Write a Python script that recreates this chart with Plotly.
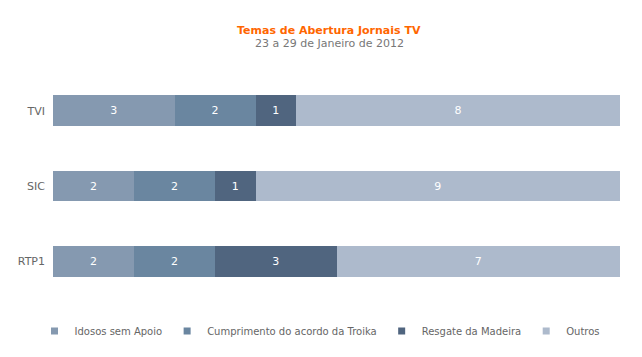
import plotly.graph_objects as go

categories = ["RTP1", "SIC", "TVI"]
series_names = ["Idosos sem Apoio", "Cumprimento do acordo da Troika", "Resgate da Madeira", "Outros"]
idosos = [2, 2, 3]
troika = [2, 2, 2]
madeira = [3, 1, 1]
outros = [7, 9, 8]
colors = ["#8599B0", "#6A86A0", "#50657F", "#ADBACC"]

values = [idosos, troika, madeira, outros]

fig = go.Figure()
for name, vals, col in zip(series_names, values, colors):
    fig.add_trace(go.Bar(
        y=categories, x=vals, name=name, orientation="h", legendgroup=name,
        showlegend=False,
        marker=dict(color=col, line=dict(width=0)),
        text=vals, textposition="inside", insidetextanchor="middle",
        textfont=dict(color="white", size=11, family="DejaVu Sans"),
        hoverinfo="x+name",
    ))
# small square legend keys
for name, col in zip(series_names, colors):
    fig.add_trace(go.Scatter(
        x=[None], y=[None], mode="markers", name=name, legendgroup=name,
        marker=dict(symbol="square", size=7, color=col), showlegend=True,
        hoverinfo="skip",
    ))

# page has an 8px body margin, so the figure is offset by 8px
OFF = 8
W, H = 642 - OFF, 357 - OFF
ML, MR, MT, MB = 53 - OFF, W - (620 - OFF), 73 - OFF, H - (299 - OFF)
PW, PH = W - ML - MR, H - MT - MB
fig.update_layout(
    barmode="stack",
    bargap=0.59,
    width=W, height=H,
    margin=dict(l=ML, r=MR, t=MT, b=MB, autoexpand=False),
    paper_bgcolor="white", plot_bgcolor="white",
    font=dict(family="DejaVu Sans", size=11, color="#666666"),
    xaxis=dict(visible=False, range=[0, 14], fixedrange=True, automargin=False),
    yaxis=dict(showgrid=False, showline=False, zeroline=False, ticks="", automargin=False,
               categoryorder="array", categoryarray=categories,
               tickfont=dict(color="#666666", size=11), ticklabelstandoff=7),
    showlegend=True,
    legend=dict(orientation="h", xref="container", yref="container",
                x=(320 - OFF) / W, xanchor="center", y=(H - (331 - OFF)) / H, yanchor="middle",
                font=dict(size=10, color="#666666"), traceorder="normal",
                itemwidth=30),
)
fig.add_annotation(text="<b>Temas de Abertura Jornais TV</b>", xref="paper", yref="paper",
                   x=(329 - 53) / PW, y=(299 - 30) / PH,
                   yanchor="middle", showarrow=False, font=dict(size=11, color="#FF6600"))
fig.add_annotation(text="23 a 29 de Janeiro de 2012", xref="paper", yref="paper",
                   x=(329 - 53) / PW, y=(299 - 43) / PH,
                   yanchor="middle", showarrow=False, font=dict(size=11, color="#777777"))

fig.write_html("out.html")
